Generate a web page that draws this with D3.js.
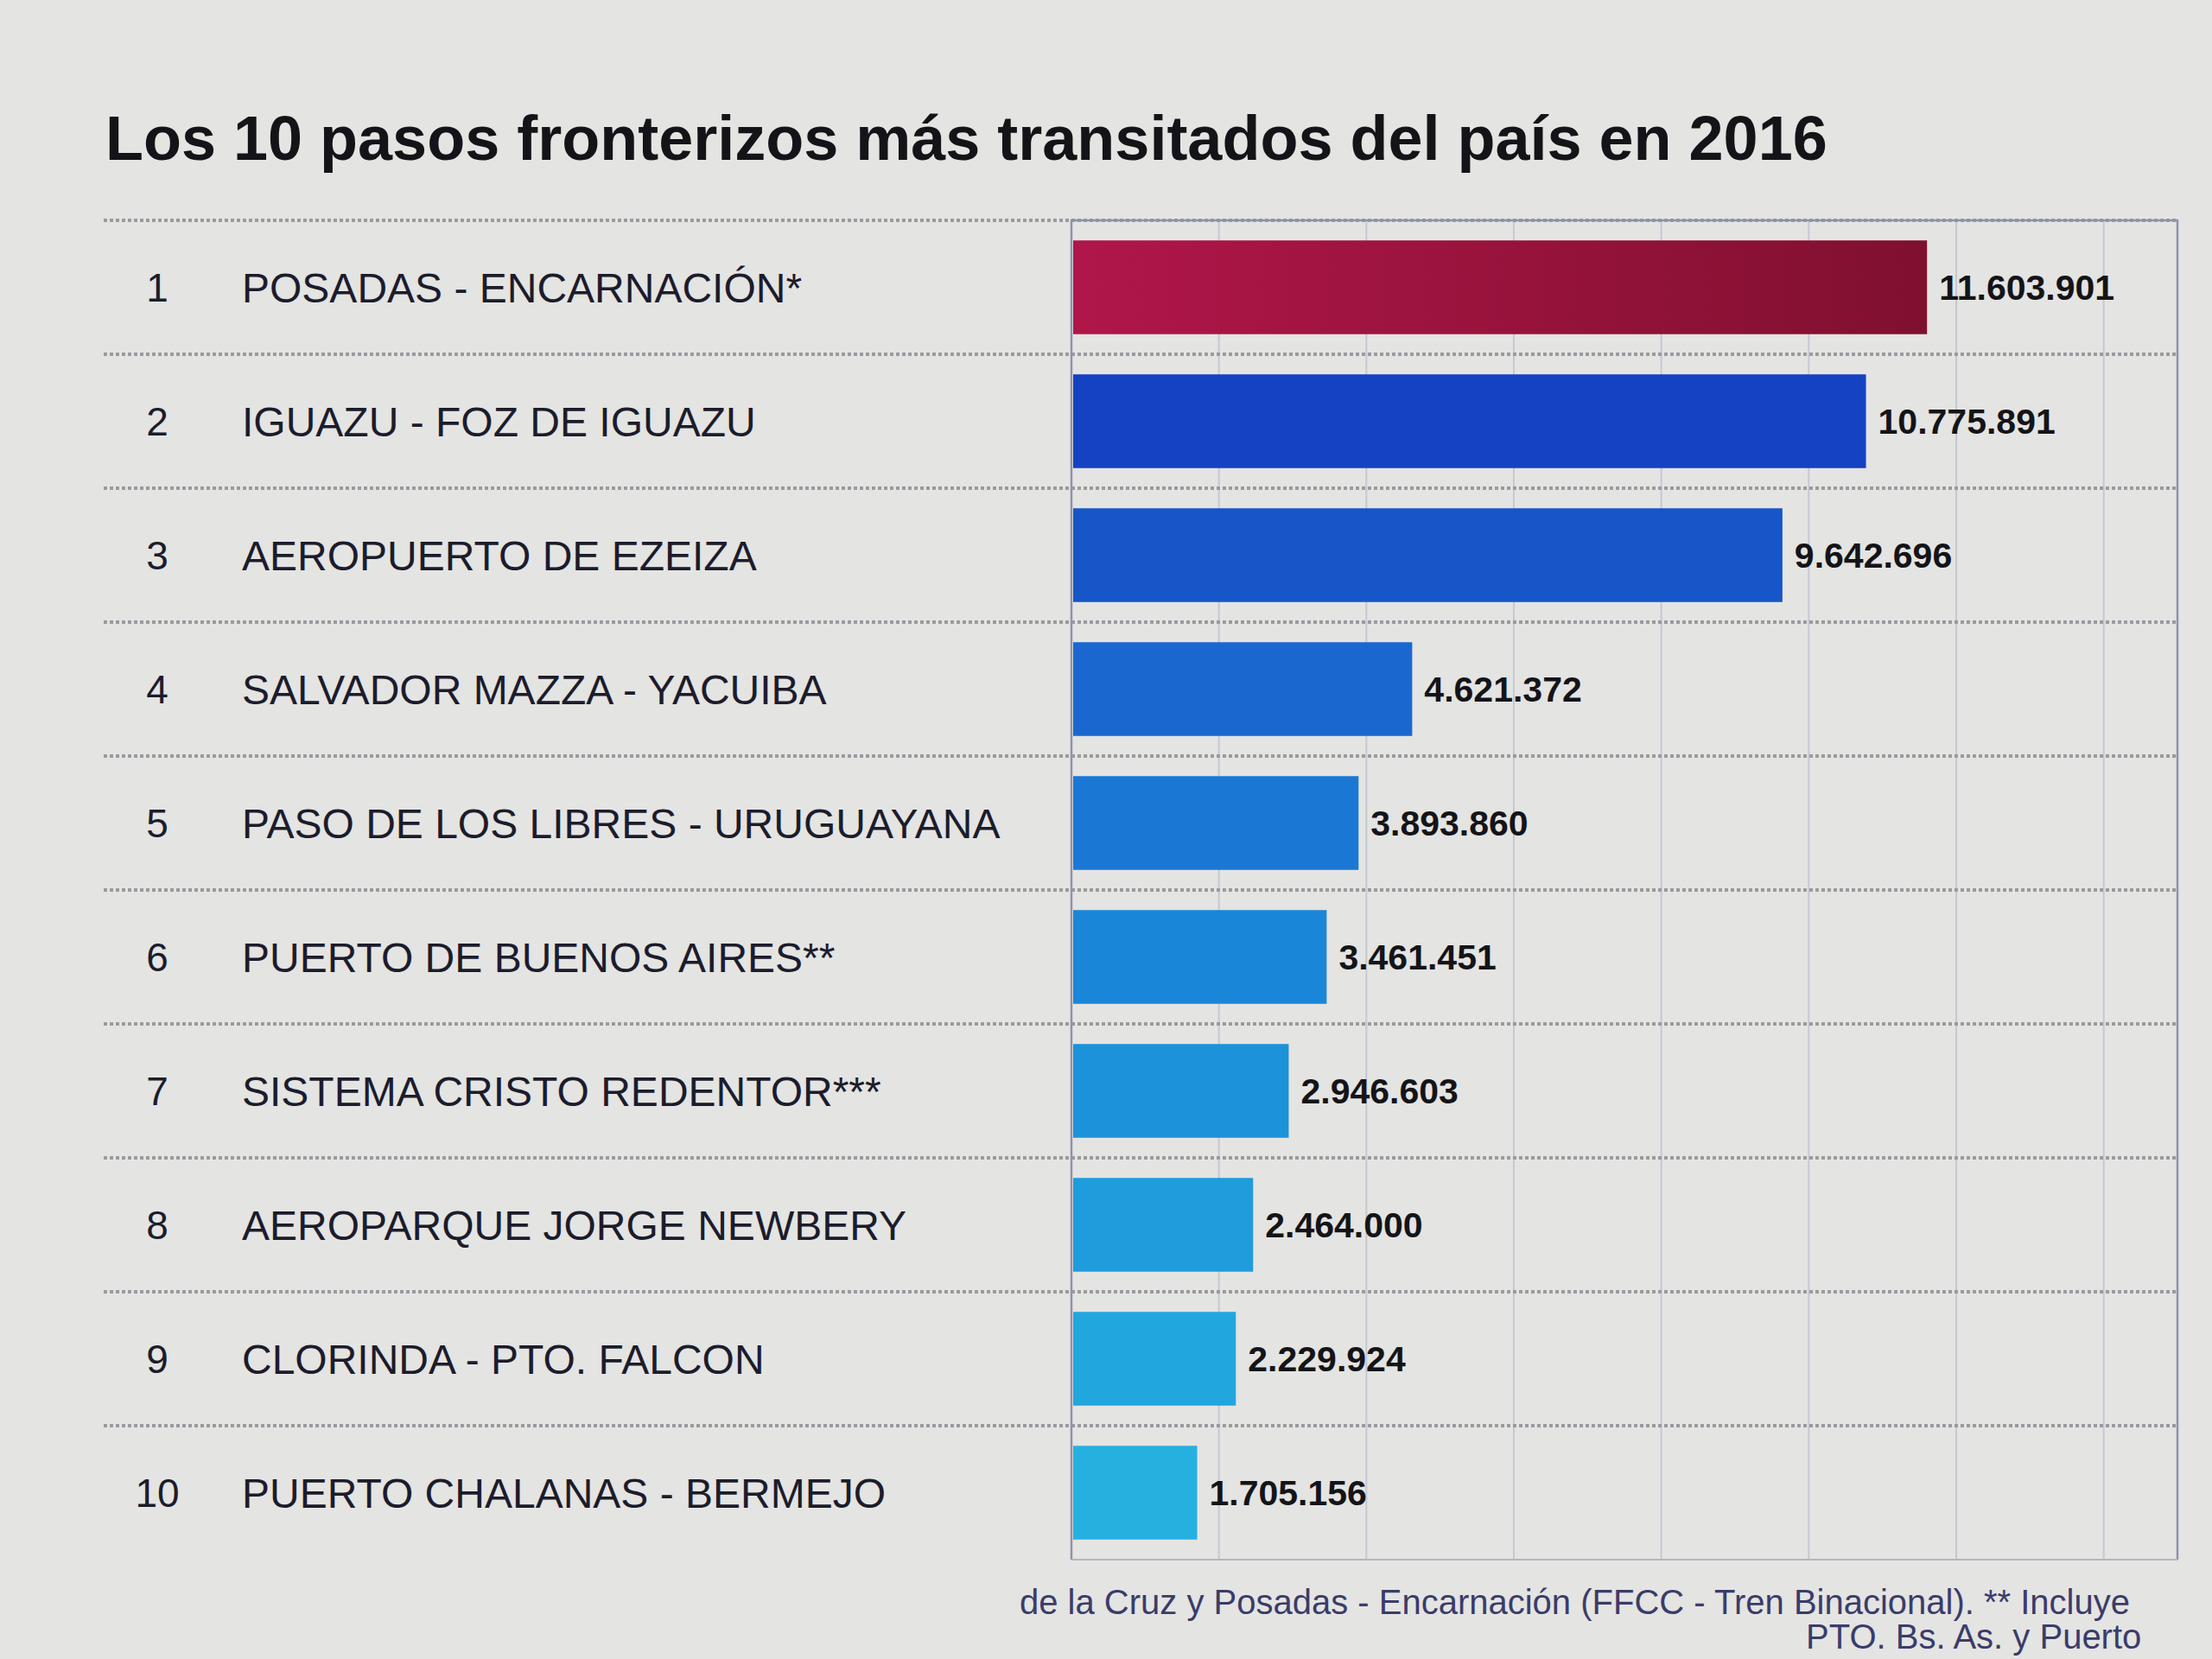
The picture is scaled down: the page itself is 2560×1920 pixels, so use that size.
<!DOCTYPE html>
<html>
<head>
<meta charset="utf-8">
<script src="https://cdn.jsdelivr.net/npm/d3@7"></script>
<style>
  body { margin: 0; background: #e4e4e2; }
  svg { display: block; }
</style>
</head>
<body>
<script>
// data
var ranks = [1, 2, 3, 4, 5, 6, 7, 8, 9, 10];
var names = [
  "POSADAS - ENCARNACIÓN*",
  "IGUAZU - FOZ DE IGUAZU",
  "AEROPUERTO DE EZEIZA",
  "SALVADOR MAZZA - YACUIBA",
  "PASO DE LOS LIBRES - URUGUAYANA",
  "PUERTO DE BUENOS AIRES**",
  "SISTEMA CRISTO REDENTOR***",
  "AEROPARQUE JORGE NEWBERY",
  "CLORINDA - PTO. FALCON",
  "PUERTO CHALANAS - BERMEJO"
];
var values = [11603901, 10775891, 9642696, 4621372, 3893860, 3461451, 2946603, 2464000, 2229924, 1705156];
var gridTicks = [2e6, 4e6, 6e6, 8e6, 10e6, 12e6, 14e6];

var barColors = ["#a3123f", "#1442c2", "#1656c8", "#1a68cf", "#1a78d4", "#1a86d8", "#1c92da", "#1e9cdc", "#22a6de", "#26b0e0"];

var width = 2560,
    height = 1920;

var svg = d3.select("body").append("svg")
    .attr("width", width)
    .attr("height", height);

var defs = svg.append("defs");
var grad = defs.append("linearGradient").attr("id", "g1");
grad.append("stop").attr("offset", "0%").attr("stop-color", "#b0164a");
grad.append("stop").attr("offset", "100%").attr("stop-color", "#80102f");

// title
svg.append("text")
    .attr("x", 122)
    .attr("y", 185)
    .style("font-family", "'Liberation Sans', Arial, sans-serif")
    .style("font-weight", "bold")
    .style("font-size", "72px")
    .style("fill", "#141418")
    .text("Los 10 pasos fronterizos más transitados del país en 2016");

var topY = 255, rowH = 155;
var plotLeft = 1240, plotRight = 2520, labelLeft = 120;

var x = d3.scaleLinear()
    .domain([0, 15e6])
    .range([plotLeft, plotRight]);

var y = d3.scaleBand()
    .domain(ranks)
    .range([topY, topY + rowH * ranks.length])
    .paddingInner(0.3)
    .paddingOuter(0.15);

var bottom = topY + rowH * ranks.length;

// vertical grid
svg.append("g")
    .selectAll("line")
    .data(gridTicks)
    .enter()
    .append("line")
    .attr("x1", function(d) { return x(d); })
    .attr("x2", function(d) { return x(d); })
    .attr("y1", topY)
    .attr("y2", bottom)
    .style("stroke", "#c6c8d2")
    .style("stroke-width", 2);

// row separators (dotted)
var seps = d3.range(ranks.length).map(function(i) { return topY + i * rowH; });
svg.append("g")
    .selectAll("line")
    .data(seps)
    .enter()
    .append("line")
    .attr("x1", labelLeft)
    .attr("x2", plotRight)
    .attr("y1", function(d) { return d; })
    .attr("y2", function(d) { return d; })
    .style("stroke", "#9a9aa0")
    .style("stroke-width", 4)
    .style("stroke-dasharray", "4 3");

// plot frame
svg.append("path")
    .attr("d", "M" + plotLeft + "," + bottom + "V" + topY + "H" + plotRight + "V" + bottom)
    .style("fill", "none")
    .style("stroke", "#8e92ab")
    .style("stroke-width", 2.5);
svg.append("line")
    .attr("x1", plotLeft).attr("x2", plotRight)
    .attr("y1", bottom).attr("y2", bottom)
    .style("stroke", "#b4b6c0")
    .style("stroke-width", 2);

// bars
svg.append("g")
    .selectAll("rect")
    .data(values)
    .enter()
    .append("rect")
    .attr("x", x(0) + 2)
    .attr("y", function(d, i) { return y(ranks[i]); })
    .attr("width", function(d) { return x(d) - x(0) - 2; })
    .attr("height", y.bandwidth())
    .style("fill", function(d, i) { return i == 0 ? "url(#g1)" : barColors[i]; });

// value labels
svg.append("g")
    .selectAll("text")
    .data(values)
    .enter()
    .append("text")
    .attr("x", function(d) { return x(d) + 14; })
    .attr("y", function(d, i) { return y(ranks[i]) + y.bandwidth() / 2; })
    .attr("dy", "0.36em")
    .style("font-family", "'Liberation Sans', Arial, sans-serif")
    .style("font-weight", "bold")
    .style("font-size", "41px")
    .style("fill", "#141418")
    .text(function(d) { return d3.format(",")(d).replace(/,/g, "."); });

// rank numbers and names
var rows = svg.append("g")
    .selectAll("g")
    .data(ranks)
    .enter()
    .append("g")
    .attr("transform", function(d) { return "translate(0," + (y(d) + y.bandwidth() / 2) + ")"; });

rows.append("text")
    .attr("x", 182)
    .attr("dy", "0.36em")
    .attr("text-anchor", "middle")
    .style("font-family", "'Liberation Sans', Arial, sans-serif")
    .style("font-size", "46px")
    .style("fill", "#1c1c2c")
    .text(function(d) { return d; });

rows.append("text")
    .attr("x", 280)
    .attr("dy", "0.36em")
    .style("font-family", "'Liberation Sans', Arial, sans-serif")
    .style("font-size", "48px")
    .style("fill", "#1c1c2c")
    .text(function(d, i) { return names[i]; });

// footnote, in the bottom right corner as in the photo
svg.append("text")
    .attr("x", 1180)
    .attr("y", 1868)
    .style("font-family", "'Liberation Sans', Arial, sans-serif")
    .style("font-size", "40px")
    .style("fill", "#3a3c6a")
    .text("de la Cruz y Posadas - Encarnación (FFCC - Tren Binacional). ** Incluye");
svg.append("text")
    .attr("x", 2090)
    .attr("y", 1908)
    .style("font-family", "'Liberation Sans', Arial, sans-serif")
    .style("font-size", "40px")
    .style("fill", "#3a3c6a")
    .text("PTO. Bs. As. y Puerto");
</script>
</body>
</html>
